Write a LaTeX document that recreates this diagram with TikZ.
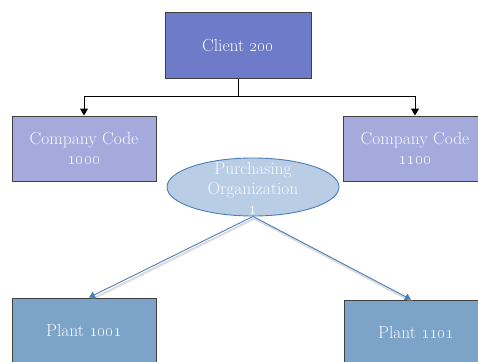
\documentclass[tikz,border=0pt]{standalone}
\usetikzlibrary{arrows.meta,calc,shapes.geometric}
\definecolor{clientfill}{HTML}{6E7BC9}
\definecolor{cofill}{HTML}{A5AADC}
\definecolor{ellfill}{HTML}{B9CDE5}
\definecolor{elldraw}{HTML}{4A7EBB}
\definecolor{plantfill}{HTML}{7CA4C9}
\definecolor{boxdraw}{HTML}{404040}
\definecolor{txt}{HTML}{F8F8FD}
\definecolor{bluelink}{HTML}{4A7EBB}
\tikzset{
  basebox/.style={draw=boxdraw, line width=1pt, minimum width=144pt, minimum height=65pt,
    inner sep=0pt, align=center, text=txt},
  clientbox/.style={basebox, fill=clientfill, minimum width=146pt},
  cobox/.style={basebox, fill=cofill},
  plantbox/.style={basebox, fill=plantfill},
  orgell/.style={ellipse, draw=elldraw, line width=0.9pt, fill=ellfill,
    minimum width=172pt, minimum height=58pt, inner sep=0pt},
  treelink/.style={draw=black, line width=1pt, -{Triangle[length=7pt,width=8pt]}},
  bluelinkstyle/.style={draw=bluelink, line width=0.9pt, -{Triangle[length=6pt,width=7pt]}},
  linkshadow/.style={draw=black!40, line width=2pt, opacity=0.35},
}
\begin{document}
\begin{tikzpicture}[x=1pt,y=-1pt,font=\fontsize{17.5}{20}\selectfont]
\useasboundingbox (0,0) rectangle (478,361);
\clip (0,0) rectangle (478,361);
\fill[white] (0,0) rectangle (478,361);

\node[clientbox] (client) at (238,45.5) {Client \oldstylenums{200}};
\node[cobox] (co1000) at (84,148.5) {Company Code\\\oldstylenums{1000}};
\node[cobox] (co1100) at (415,148.5) {Company Code\\\oldstylenums{1100}};
\node[plantbox] (p1001) at (84,330.5) {Plant \oldstylenums{1001}};
\node[plantbox] (p1101) at (416,332.5) {Plant \oldstylenums{1101}};

\coordinate (bus) at (238,96);
\draw[treelink] (client.south) -- (bus) -| (co1000.north);
\draw[treelink] (bus) -| (co1100.north);

\coordinate (t1001) at ($(p1001.north)+(5,0)$);
\coordinate (t1101) at ($(p1101.north)+(-5,0)$);
\coordinate (apex) at (253,216);
\draw[linkshadow] ($(apex)+(1.5,2.5)$) -- ($(t1001)+(1.5,2.5)$);
\draw[linkshadow] ($(apex)+(1.5,2.5)$) -- ($(t1101)+(1.5,2.5)$);

\node[orgell] (porg) at (253,187) {};
\node[align=center, text=txt, inner sep=0pt] (porgtext) at (253,188)
  {Purchasing\\Organization\\\oldstylenums{1}};

\draw[bluelinkstyle] (porg.south) -- (t1001);
\draw[bluelinkstyle] (porg.south) -- (t1101);
\end{tikzpicture}
\end{document}
